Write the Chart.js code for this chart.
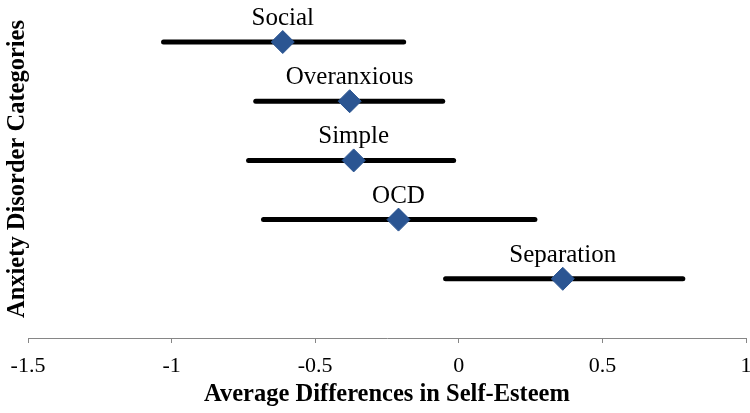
<!DOCTYPE html>
<html>
<head>
<meta charset="utf-8">
<script src="https://cdn.jsdelivr.net/npm/chart.js@4/dist/chart.umd.min.js"></script>
<style>
    body { margin: 0; background: #fff; }
    .chart-box { width: 750px; height: 413px; }
</style>
</head>
<body>
<div class="chart-box"><canvas id="anxietyChart"></canvas></div>
<script>
// Values
const categories = ['Social', 'Overanxious', 'Simple', 'OCD', 'Separation'];
const means = [-0.613, -0.38, -0.366, -0.21, 0.362];
const lower = [-1.028, -0.707, -0.732, -0.68, -0.046];
const upper = [-0.192, -0.056, -0.018, 0.265, 0.78];
const rows = [5, 4, 3, 2, 1];
const xTicks = [-1.5, -1, -0.5, 0, 0.5, 1];

const serif = '"Liberation Serif", "Times New Roman", serif';

// Error bars, one line per category
const barSets = categories.map((name, i) => ({
    label: name + ' range',
    data: [{ x: lower[i], y: rows[i] }, { x: upper[i], y: rows[i] }],
    showLine: true,
    borderColor: '#000',
    borderWidth: 5,
    borderCapStyle: 'round',
    pointRadius: 0,
    order: 2
}));

// Category names above each diamond
const pointLabels = {
    id: 'pointLabels',
    afterDatasetsDraw(chart) {
        const ctx = chart.ctx;
        const xs = chart.scales.x;
        const ys = chart.scales.y;
        ctx.save();
        ctx.font = '25px ' + serif;
        ctx.fillStyle = '#000';
        ctx.textAlign = 'center';
        ctx.textBaseline = 'alphabetic';
        categories.forEach((name, i) => {
            ctx.fillText(name, xs.getPixelForValue(means[i]), ys.getPixelForValue(rows[i]) - 17);
        });
        ctx.restore();
    }
};

const ctx = document.getElementById('anxietyChart').getContext('2d');
new Chart(ctx, {
    type: 'scatter',
    data: {
        datasets: [{
            label: 'Mean',
            data: means.map((m, i) => ({ x: m, y: rows[i] })),
            pointStyle: 'rectRot',
            pointRadius: 11.5,
            backgroundColor: '#2B5592',
            borderColor: '#2B5592',
            borderWidth: 1,
            order: 1
        }, ...barSets]
    },
    options: {
        responsive: true,
        maintainAspectRatio: false,
        animation: false,
        layout: { autoPadding: false, padding: { left: 0, right: 4, top: 0, bottom: 0 } },
        plugins: {
            legend: { display: false },
            tooltip: { enabled: false }
        },
        scales: {
            x: {
                type: 'linear',
                min: -1.5,
                max: 1,
                afterBuildTicks: (scale) => {
                    scale.ticks = xTicks.map(v => ({ value: v }));
                },
                afterFit: (scale) => {
                    scale.height = 75;
                    scale.paddingLeft = 0;
                    scale.paddingRight = 0;
                },
                ticks: {
                    color: '#000',
                    padding: 10,
                    font: { family: serif, size: 22 },
                    callback: (v) => String(v)
                },
                grid: {
                    drawOnChartArea: false,
                    drawTicks: true,
                    tickLength: 5,
                    color: '#868686'
                },
                border: { color: '#868686', width: 1 },
                title: {
                    display: true,
                    text: 'Average Differences in Self-Esteem',
                    color: '#000',
                    padding: { top: 0, bottom: 4 },
                    font: { family: serif, size: 24.5, weight: 'bold' }
                }
            },
            y: {
                type: 'linear',
                min: 0,
                max: 5.71,
                afterFit: (scale) => { scale.width = 28; },
                ticks: { display: false },
                grid: { display: false },
                border: { display: false },
                title: {
                    display: true,
                    text: 'Anxiety Disorder Categories',
                    color: '#000',
                    padding: { top: 3, bottom: 0 },
                    font: { family: serif, size: 24.5, weight: 'bold' }
                }
            }
        }
    },
    plugins: [pointLabels]
});
</script>
</body>
</html>
